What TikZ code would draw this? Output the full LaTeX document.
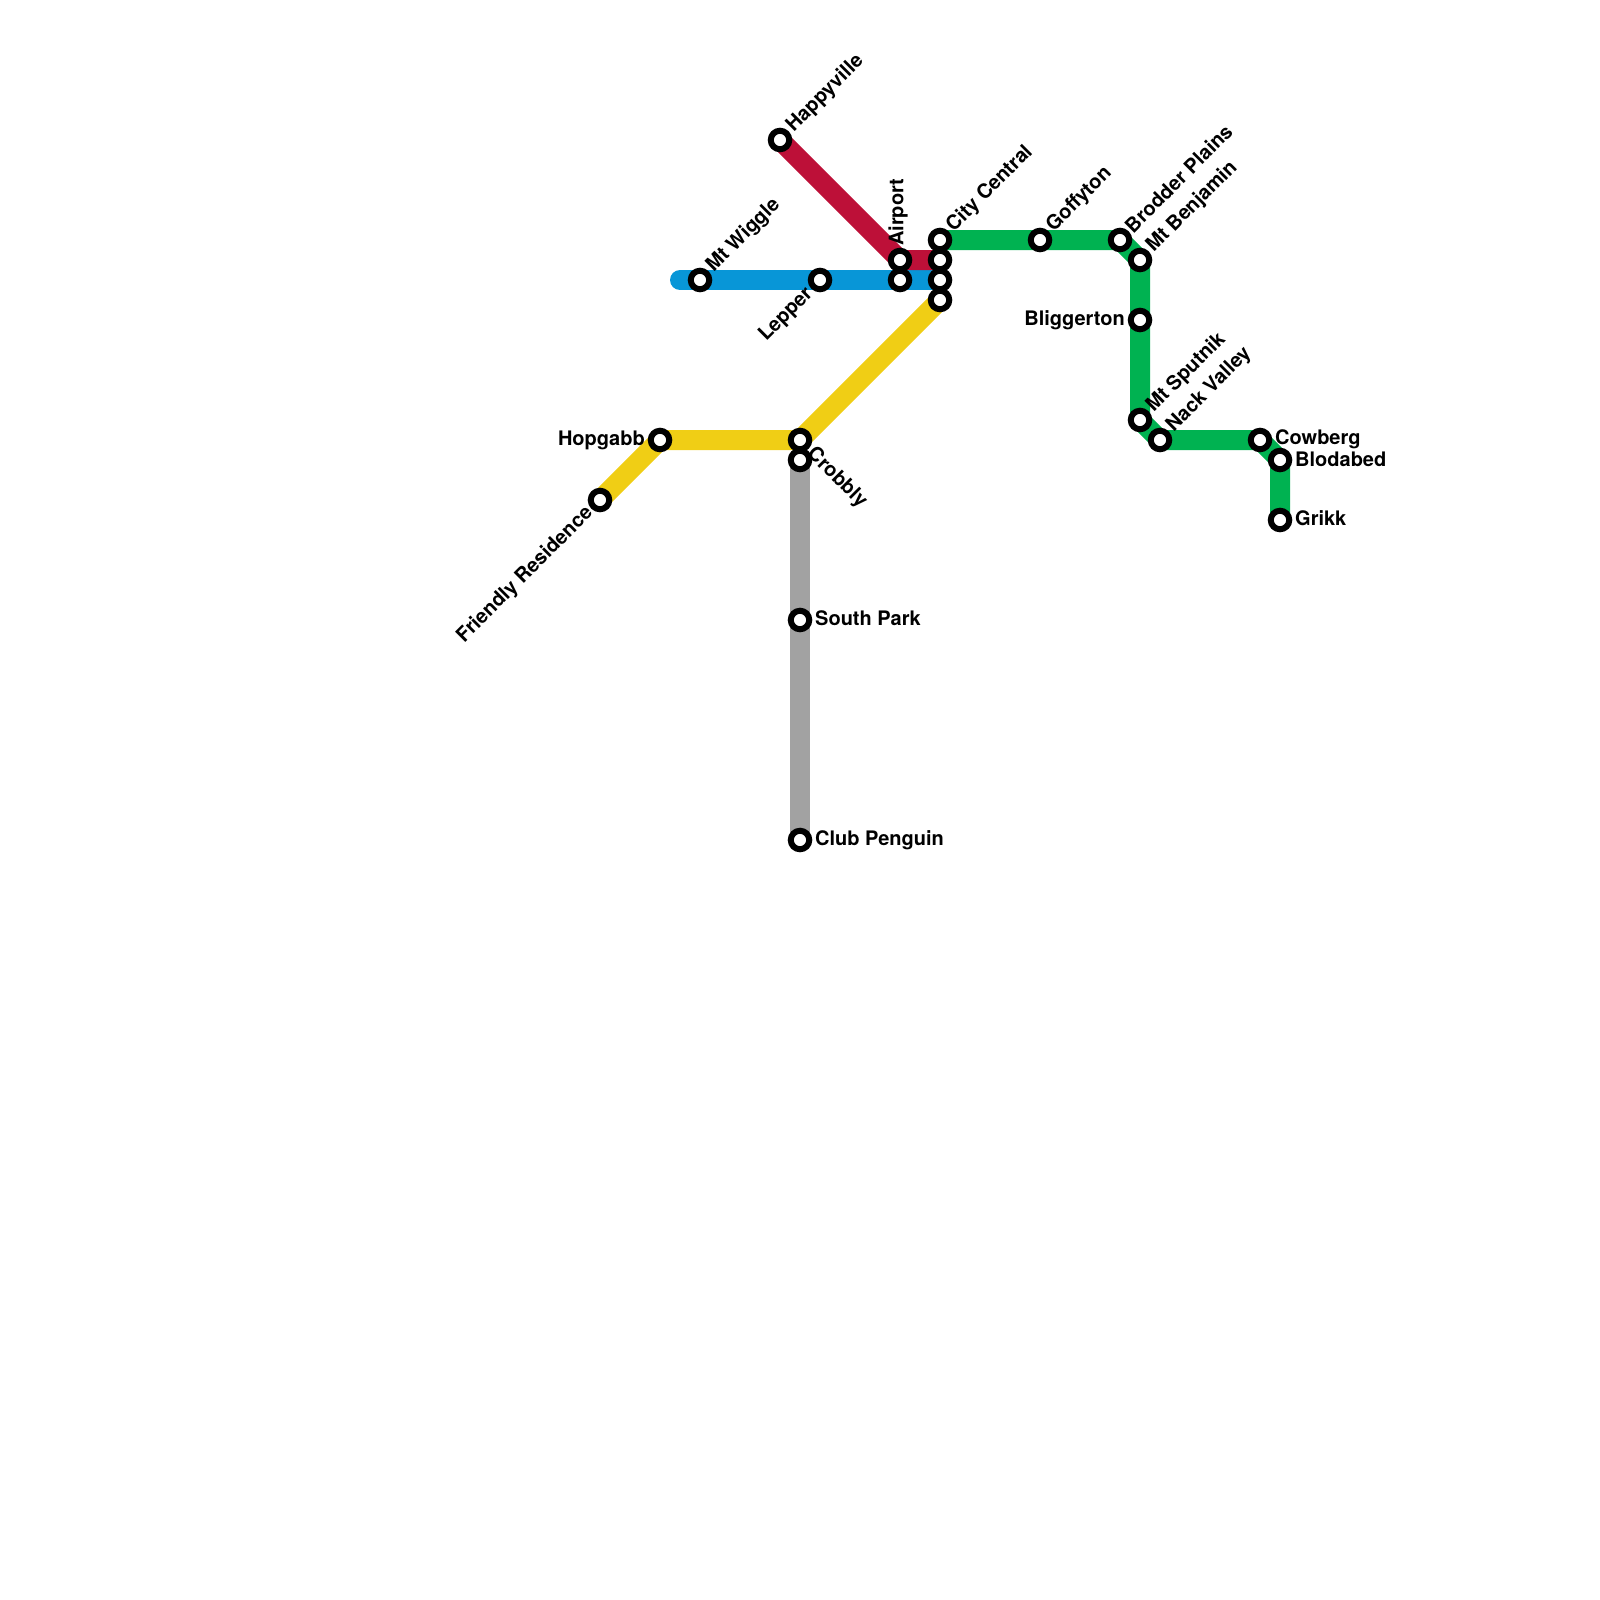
\documentclass[tikz,border=0pt]{standalone}
\usepackage{fontspec}
\setmainfont{TeX Gyre Heros}
\usetikzlibrary{backgrounds}
\definecolor{lblue}{HTML}{0896D7}
\definecolor{lred}{HTML}{BD1038}
\definecolor{lgreen}{HTML}{00B251}
\definecolor{lyellow}{HTML}{F0CE15}
\definecolor{lgray}{HTML}{A2A2A2}
\tikzset{
  stn/.style={circle,draw=black,fill=white,line width=6pt,inner sep=0pt,minimum size=18.5pt},
  metro/.style={line width=20pt,line join=miter},
  lbl/.style={font=\bfseries\fontsize{20}{22}\selectfont,inner sep=0pt,text=black},
  ne/.style={lbl,anchor=west,rotate=45},
  se/.style={lbl,anchor=west,rotate=-45},
  sw/.style={lbl,anchor=east,rotate=45},
  ea/.style={lbl,anchor=west},
  we/.style={lbl,anchor=east},
  up/.style={lbl,anchor=west,rotate=90},
}
\begin{document}
\begin{tikzpicture}[x=1pt,y=-1pt]
\useasboundingbox (0,0) rectangle (1600,1600);
\node[stn] (wiggle) at (700,280) {};
\node[stn] (lepper) at (820,280) {};
\node[stn] (airb) at (900,280) {};
\node[stn] (air) at (900,260) {};
\node[stn] (happy) at (780,140) {};
\node[stn] (cc1) at (940,240) {};
\node[stn] (cc2) at (940,260) {};
\node[stn] (cc3) at (940,280) {};
\node[stn] (cc4) at (940,300) {};
\node[stn] (goff) at (1040,240) {};
\node[stn] (brod) at (1120,240) {};
\node[stn] (benj) at (1140,260) {};
\node[stn] (blig) at (1140,320) {};
\node[stn] (sput) at (1140,420) {};
\node[stn] (nack) at (1160,440) {};
\node[stn] (cowb) at (1260,440) {};
\node[stn] (blod) at (1280,460) {};
\node[stn] (grik) at (1280,520) {};
\node[stn] (hop) at (660,440) {};
\node[stn] (fri) at (600,500) {};
\node[stn] (cro) at (800,440) {};
\node[stn] (crob) at (800,460) {};
\node[stn] (south) at (800,620) {};
\node[stn] (club) at (800,840) {};
\coordinate (bluestart) at (680,280);
\begin{scope}[on background layer]
\draw[metro,lgray] (crob.center) -- (south.center) -- (club.center);
\draw[metro,lblue,line cap=round] (bluestart) -- (wiggle.center);
\draw[metro,lblue] (wiggle.center) -- (lepper.center) -- (airb.center) -- (cc3.center);
\draw[metro,lred] (happy.center) -- (air.center) -- (cc2.center);
\draw[metro,lgreen] (cc1.center) -- (goff.center) -- (brod.center) -- (benj.center) -- (blig.center) -- (sput.center) -- (nack.center) -- (cowb.center) -- (blod.center) -- (grik.center);
\draw[metro,lyellow] (cc4.center) -- (cro.center) -- (hop.center) -- (fri.center);
\end{scope}
\node[ne] (t1) at (790,129) {Happyville};
\node[ne] (t2) at (710,269) {Mt Wiggle};
\node[sw] (t3) at (810,291) {Lepper};
\node[up] (t4) at (898,246) {Airport};
\node[ne] (t5) at (950,229) {City Central};
\node[ne] (t6) at (1050,229) {Goffyton};
\node[ne] (t7) at (1128,229) {Brodder Plains};
\node[ne] (t8) at (1150,249) {Mt Benjamin};
\node[we] (t9) at (1125,320) {Bliggerton};
\node[ne] (t10) at (1150,409) {Mt Sputnik};
\node[ne] (t11) at (1170,429) {Nack Valley};
\node[ea] (t12) at (1275,439) {Cowberg};
\node[ea] (t13) at (1295,459) {Blodabed};
\node[ea] (t14) at (1295,518) {Grikk};
\node[we] (t15) at (645,440) {Hopgabb};
\node[sw] (t16) at (590,510) {Friendly Residence};
\node[se] (t17) at (810,451) {Crobbly};
\node[ea] (t18) at (815,618) {South Park};
\node[ea] (t19) at (815,840) {Club Penguin};
\end{tikzpicture}
\end{document}
